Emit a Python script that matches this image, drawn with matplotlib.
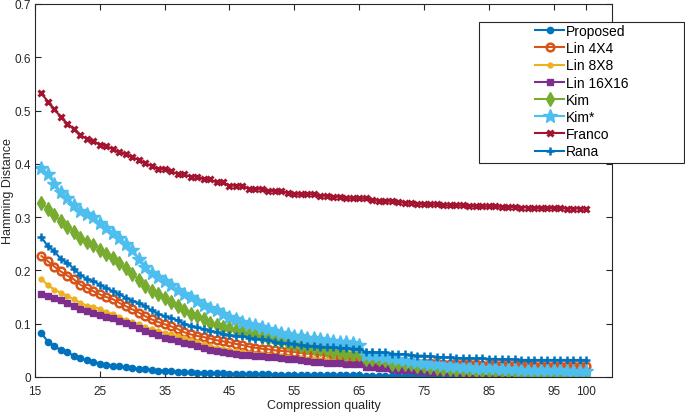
import matplotlib
matplotlib.use("Agg")
import matplotlib.pyplot as plt
from matplotlib.patches import Rectangle

plt.rcParams['font.family'] = ['Liberation Sans', 'DejaVu Sans']

# compression quality 16..100
quality = list(range(16, 101))

proposed = [
    0.082, 0.066, 0.058, 0.050, 0.046, 0.040, 0.035, 0.031, 0.029, 0.025,
    0.023, 0.021, 0.020, 0.018, 0.016, 0.015, 0.015, 0.013, 0.012, 0.012,
    0.011, 0.010, 0.009, 0.009, 0.008, 0.008, 0.007, 0.007, 0.007, 0.006,
    0.006, 0.006, 0.005, 0.005, 0.005, 0.005, 0.004, 0.004, 0.004, 0.004,
    0.004, 0.003, 0.003, 0.003, 0.003, 0.003, 0.003, 0.003, 0.003, 0.003,
    0.002, 0.002, 0.002, 0.002, 0.002, 0.002, 0.002, 0.002, 0.002, 0.002,
    0.002, 0.002, 0.002, 0.002, 0.002, 0.002, 0.002, 0.002, 0.002, 0.002,
    0.002, 0.002, 0.002, 0.002, 0.002, 0.002, 0.002, 0.002, 0.002, 0.002,
    0.002, 0.002, 0.002, 0.002, 0.002,
]
lin_4x4 = [
    0.227, 0.217, 0.207, 0.198, 0.190, 0.183, 0.173, 0.167, 0.161, 0.155,
    0.150, 0.146, 0.139, 0.133, 0.127, 0.121, 0.114, 0.108, 0.103, 0.099,
    0.095, 0.090, 0.084, 0.080, 0.077, 0.075, 0.072, 0.069, 0.067, 0.065,
    0.062, 0.060, 0.057, 0.055, 0.053, 0.052, 0.050, 0.049, 0.048, 0.047,
    0.045, 0.044, 0.043, 0.042, 0.040, 0.040, 0.039, 0.038, 0.038, 0.037,
    0.031, 0.031, 0.030, 0.030, 0.029, 0.029, 0.028, 0.028, 0.027, 0.027,
    0.026, 0.026, 0.025, 0.025, 0.025, 0.024, 0.024, 0.024, 0.023, 0.023,
    0.023, 0.022, 0.022, 0.022, 0.022, 0.022, 0.021, 0.021, 0.021, 0.021,
    0.021, 0.021, 0.021, 0.021, 0.021,
]
lin_8x8 = [
    0.184, 0.172, 0.164, 0.158, 0.152, 0.146, 0.139, 0.134, 0.132, 0.127,
    0.122, 0.118, 0.112, 0.107, 0.103, 0.099, 0.093, 0.090, 0.086, 0.083,
    0.080, 0.077, 0.073, 0.069, 0.065, 0.061, 0.058, 0.055, 0.053, 0.051,
    0.049, 0.047, 0.045, 0.044, 0.043, 0.041, 0.040, 0.039, 0.038, 0.036,
    0.035, 0.034, 0.033, 0.032, 0.031, 0.030, 0.029, 0.029, 0.028, 0.027,
    0.021, 0.021, 0.020, 0.019, 0.017, 0.016, 0.016, 0.015, 0.014, 0.013,
    0.012, 0.012, 0.011, 0.011, 0.010, 0.010, 0.010, 0.009, 0.009, 0.009,
    0.009, 0.008, 0.008, 0.008, 0.008, 0.008, 0.008, 0.007, 0.007, 0.007,
    0.007, 0.007, 0.007, 0.007, 0.007,
]
lin_16x16 = [
    0.155, 0.152, 0.149, 0.144, 0.138, 0.134, 0.128, 0.124, 0.121, 0.116,
    0.113, 0.110, 0.105, 0.102, 0.097, 0.091, 0.086, 0.082, 0.078, 0.074,
    0.071, 0.068, 0.064, 0.061, 0.058, 0.055, 0.051, 0.048, 0.046, 0.045,
    0.043, 0.042, 0.041, 0.040, 0.039, 0.038, 0.037, 0.035, 0.034, 0.033,
    0.031, 0.030, 0.029, 0.028, 0.027, 0.027, 0.026, 0.025, 0.025, 0.024,
    0.018, 0.018, 0.017, 0.016, 0.015, 0.014, 0.014, 0.013, 0.012, 0.011,
    0.010, 0.010, 0.009, 0.009, 0.009, 0.008, 0.008, 0.007, 0.007, 0.007,
    0.007, 0.006, 0.006, 0.006, 0.006, 0.006, 0.006, 0.005, 0.005, 0.005,
    0.005, 0.005, 0.005, 0.005, 0.005,
]
kim = [
    0.326, 0.315, 0.304, 0.292, 0.282, 0.273, 0.261, 0.254, 0.248, 0.239,
    0.231, 0.223, 0.214, 0.204, 0.194, 0.182, 0.170, 0.161, 0.155, 0.148,
    0.140, 0.133, 0.125, 0.119, 0.114, 0.108, 0.102, 0.098, 0.094, 0.091,
    0.088, 0.084, 0.081, 0.078, 0.075, 0.073, 0.070, 0.067, 0.064, 0.061,
    0.059, 0.057, 0.055, 0.053, 0.050, 0.047, 0.046, 0.044, 0.043, 0.043,
    0.034, 0.034, 0.033, 0.032, 0.025, 0.024, 0.024, 0.024, 0.021, 0.020,
    0.018, 0.017, 0.015, 0.015, 0.014, 0.014, 0.013, 0.012, 0.012, 0.011,
    0.011, 0.011, 0.010, 0.010, 0.010, 0.010, 0.009, 0.009, 0.009, 0.009,
    0.009, 0.009, 0.008, 0.008, 0.008,
]
kim_star = [
    0.392, 0.380, 0.362, 0.347, 0.336, 0.322, 0.312, 0.306, 0.300, 0.289,
    0.280, 0.270, 0.261, 0.250, 0.238, 0.222, 0.207, 0.195, 0.187, 0.181,
    0.172, 0.163, 0.156, 0.150, 0.143, 0.136, 0.130, 0.125, 0.118, 0.113,
    0.109, 0.104, 0.100, 0.097, 0.094, 0.090, 0.086, 0.083, 0.080, 0.077,
    0.076, 0.074, 0.073, 0.071, 0.070, 0.068, 0.066, 0.065, 0.063, 0.060,
    0.042, 0.041, 0.040, 0.038, 0.035, 0.033, 0.031, 0.030, 0.028, 0.026,
    0.025, 0.024, 0.022, 0.021, 0.020, 0.019, 0.018, 0.017, 0.017, 0.016,
    0.016, 0.015, 0.015, 0.015, 0.014, 0.014, 0.014, 0.013, 0.013, 0.013,
    0.013, 0.012, 0.012, 0.012, 0.012,
]
franco = [
    0.533, 0.516, 0.502, 0.488, 0.475, 0.466, 0.454, 0.447, 0.443, 0.436,
    0.434, 0.427, 0.422, 0.418, 0.413, 0.407, 0.401, 0.396, 0.391, 0.390,
    0.386, 0.381, 0.380, 0.376, 0.376, 0.371, 0.371, 0.365, 0.365, 0.359,
    0.359, 0.359, 0.353, 0.353, 0.353, 0.349, 0.349, 0.349, 0.345, 0.343,
    0.343, 0.343, 0.343, 0.340, 0.340, 0.338, 0.338, 0.335, 0.335, 0.335,
    0.335, 0.333, 0.330, 0.330, 0.330, 0.328, 0.327, 0.327, 0.325, 0.324,
    0.324, 0.324, 0.322, 0.322, 0.322, 0.322, 0.321, 0.320, 0.320, 0.320,
    0.320, 0.319, 0.319, 0.319, 0.318, 0.318, 0.317, 0.317, 0.317, 0.317,
    0.317, 0.316, 0.316, 0.316, 0.316,
]
rana = [
    0.262, 0.245, 0.236, 0.221, 0.214, 0.203, 0.191, 0.184, 0.180, 0.173,
    0.167, 0.161, 0.155, 0.149, 0.143, 0.139, 0.133, 0.125, 0.119, 0.114,
    0.111, 0.106, 0.100, 0.096, 0.093, 0.090, 0.087, 0.084, 0.081, 0.078,
    0.077, 0.076, 0.074, 0.072, 0.071, 0.069, 0.066, 0.064, 0.063, 0.062,
    0.060, 0.059, 0.058, 0.057, 0.056, 0.056, 0.055, 0.054, 0.053, 0.053,
    0.047, 0.047, 0.046, 0.046, 0.044, 0.043, 0.043, 0.041, 0.040, 0.040,
    0.039, 0.038, 0.037, 0.037, 0.036, 0.035, 0.035, 0.035, 0.035, 0.034,
    0.034, 0.033, 0.033, 0.033, 0.032, 0.032, 0.032, 0.032, 0.032, 0.032,
    0.032, 0.032, 0.032, 0.032, 0.032,
]

x_ticks = [15, 25, 35, 45, 55, 65, 75, 85, 95, 100]
y_ticks = [0, 0.1, 0.2, 0.3, 0.4, 0.5, 0.6, 0.7]
y_tick_labels = ['0', '0.1', '0.2', '0.3', '0.4', '0.5', '0.6', '0.7']

series = [
    ('Proposed', proposed, '#0072BD', dict(marker='o', ms=4.5)),
    ('Lin 4X4', lin_4x4, '#D95319', dict(marker='o', ms=5.5, mfc='none', mew=1.8)),
    ('Lin 8X8', lin_8x8, '#EDB120', dict(marker='o', ms=3.5)),
    ('Lin 16X16', lin_16x16, '#7E2F8E', dict(marker='s', ms=5)),
    ('Kim', kim, '#77AC30', dict(marker='d', ms=7)),
    ('Kim*', kim_star, '#4DBEEE', dict(marker='*', ms=10)),
    ('Franco', franco, '#A2142F', dict(marker='x', ms=5, mew=2.2)),
    ('Rana', rana, '#0072BD', dict(marker='+', ms=6, mew=1.8)),
]

fig = plt.figure(figsize=(6.85, 4.14), dpi=100)
ax = fig.add_axes([0.0511, 0.0870, 0.8423, 0.9010])

handles = []
for name, values, color, style in series:
    line, = ax.plot(quality, values, color=color, lw=1.5, label=name, **style)
    handles.append(line)

ax.set_xlim(15, 104)
ax.set_ylim(0, 0.7)
ax.set_xticks(x_ticks)
ax.set_yticks(y_ticks)
ax.set_yticklabels(y_tick_labels)

axis_color = '#262626'
for side in ['top', 'bottom', 'left', 'right']:
    ax.spines[side].set_color(axis_color)
    ax.spines[side].set_linewidth(0.8)
ax.tick_params(direction='in', top=True, right=True, length=4, width=0.8,
               colors=axis_color, labelsize=8.5)
ax.tick_params(axis='x', pad=6)
ax.tick_params(axis='y', pad=3)

ax.set_xlabel('Compression quality', fontsize=9, color=axis_color, labelpad=1)
ax.set_ylabel('Hamming Distance', fontsize=9, color=axis_color, labelpad=1)
ax.yaxis.set_label_coords(-0.037, 0.5)

# legend box sits over the right spine, like the original
fig.patches.append(Rectangle((479 / 685, 1 - 164 / 414), 205 / 685, 141 / 414,
                             transform=fig.transFigure, facecolor='white',
                             edgecolor=axis_color, lw=0.8, zorder=5))
leg = fig.legend(handles=handles, loc='upper left',
                 bbox_to_anchor=(535 / 685, 1 - 25 / 414),
                 frameon=False, fontsize=10, handlelength=2.1,
                 handletextpad=0.15, labelspacing=0.23, borderpad=0,
                 borderaxespad=0)
leg.set_zorder(6)

fig.savefig('out.png', dpi=100)
